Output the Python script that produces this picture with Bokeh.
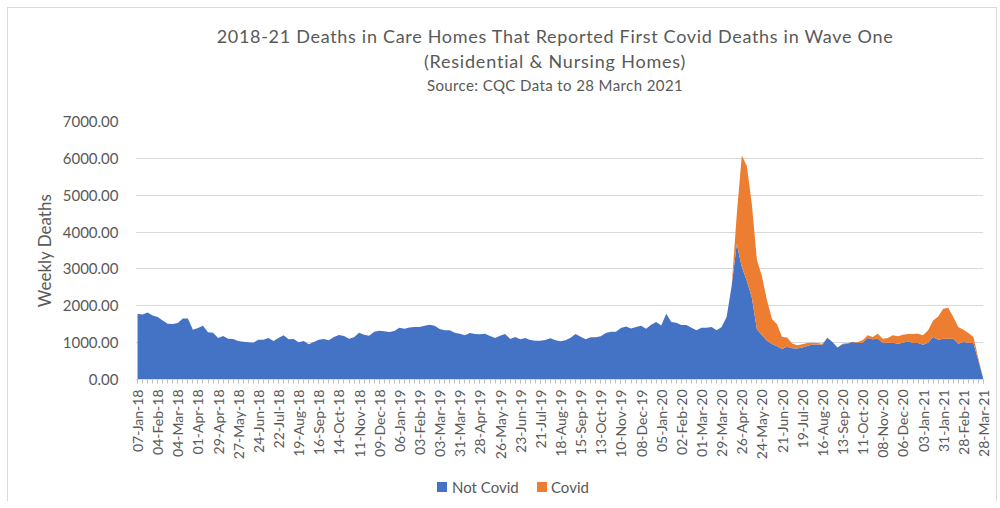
import math
import html
from bokeh.plotting import figure
from bokeh.layouts import column
from bokeh.models import ColumnDataSource, Range1d, FixedTicker, NumeralTickFormatter, Div
from bokeh.embed import file_html
from bokeh.resources import INLINE

# ---------------- data ----------------
week_index = list(range(169))

tick_labels = [
    "07-Jan-18", "04-Feb-18", "04-Mar-18", "01-Apr-18", "29-Apr-18", "27-May-18",
    "24-Jun-18", "22-Jul-18", "19-Aug-18", "16-Sep-18", "14-Oct-18", "11-Nov-18",
    "09-Dec-18", "06-Jan-19", "03-Feb-19", "03-Mar-19", "31-Mar-19", "28-Apr-19",
    "26-May-19", "23-Jun-19", "21-Jul-19", "18-Aug-19", "15-Sep-19", "13-Oct-19",
    "10-Nov-19", "08-Dec-19", "05-Jan-20", "02-Feb-20", "01-Mar-20", "29-Mar-20",
    "26-Apr-20", "24-May-20", "21-Jun-20", "19-Jul-20", "16-Aug-20", "13-Sep-20",
    "11-Oct-20", "08-Nov-20", "06-Dec-20", "03-Jan-21", "31-Jan-21", "28-Feb-21",
    "28-Mar-21",
]

not_covid = [
    1784, 1766, 1820, 1739, 1694, 1604, 1514, 1505, 1532, 1658,
    1658, 1351, 1396, 1459, 1279, 1270, 1126, 1180, 1108, 1099,
    1045, 1027, 1009, 1000, 1081, 1081, 1126, 1045, 1126, 1198,
    1090, 1099, 1009, 1045, 955, 1018, 1081, 1099, 1063, 1153,
    1207, 1180, 1108, 1144, 1270, 1216, 1189, 1297, 1324, 1306,
    1288, 1315, 1405, 1378, 1414, 1423, 1423, 1459, 1486, 1459,
    1369, 1333, 1333, 1270, 1243, 1198, 1261, 1235, 1225, 1243,
    1180, 1126, 1189, 1234, 1099, 1153, 1090, 1126, 1072, 1054,
    1054, 1072, 1117, 1063, 1036, 1063, 1135, 1234, 1162, 1090,
    1144, 1144, 1171, 1261, 1297, 1297, 1396, 1441, 1387, 1423,
    1455, 1378, 1486, 1559, 1468, 1784, 1559, 1541, 1477, 1477,
    1405, 1333, 1405, 1405, 1423, 1333, 1423, 1700, 2550, 3680,
    3050, 2680, 2220, 1360, 1200, 1050, 960, 900, 830, 890,
    850, 840, 865, 910, 950, 950, 946, 1135, 1018, 865,
    955, 973, 1018, 991, 1000, 1126, 1090, 1108, 1000, 1000,
    1000, 973, 1000, 1036, 991, 991, 946, 1000, 1153, 1081,
    1108, 1108, 1108, 973, 1018, 1000, 991, 500, 0,
]

covid = [0] * 119 + [
    800, 3030, 3120, 2530, 1890, 1600, 1100, 680, 600, 320,
    250, 130, 90, 90, 80, 45, 40, 27, 0, 0,
    0, 18, 18, 0, 27, 63, 72, 63, 135, 108,
    126, 198, 198, 216, 198, 243, 252, 252, 333, 451,
    631, 811, 838, 586, 450, 333, 261, 162, 60, 0,
]

y_ticks = [0, 1000, 2000, 3000, 4000, 5000, 6000, 7000]

title_text = "2018-21 Deaths in Care Homes That Reported First Covid Deaths in Wave One"
subtitle_text = "(Residential & Nursing Homes)"
source_text = "Source: CQC Data to 28 March 2021"
y_label = "Weekly Deaths"
series_names = ["Not Covid", "Covid"]

# ---------------- styling ----------------
BLUE = "#4472C4"
ORANGE = "#ED7D31"
GREY_TXT = "#595959"
GRID = "#D9D9D9"
FONT = "Lato"
W = 988

# ---------------- title block ----------------
def line(txt, top, size, lh, ls):
    return (f'<div style="position:absolute;left:97px;top:{top}px;width:900px;'
            f'text-align:center;white-space:nowrap;font-size:{size}px;line-height:{lh}px;'
            f'letter-spacing:{ls}px;">{html.escape(txt)}</div>')

title_html = (f'<div style="position:relative;width:{W}px;height:103px;'
              f'font-family:{FONT};color:{GREY_TXT};">'
              + line(title_text, 17, 18, 22, 0.7)
              + line(subtitle_text, 42, 18, 22, 0.8)
              + line(source_text, 68, 15, 18, 0.4)
              + '</div>')
title_div = Div(text=title_html, width=W, height=103, margin=0)

# ---------------- main chart ----------------
src = ColumnDataSource(dict(x=week_index, not_covid=not_covid, covid=covid))

p = figure(width=W, height=358, output_backend="svg", toolbar_location=None,
           x_range=Range1d(-0.4, 168), y_range=Range1d(0, 7000),
           min_border_left=127, min_border_right=13, min_border_top=10,
           min_border_bottom=90)
p.outline_line_color = None
p.background_fill_color = "white"
p.border_fill_color = "white"

areas = p.varea_stack(["not_covid", "covid"], x="x", color=[BLUE, ORANGE], source=src)

p.xgrid.grid_line_color = None
p.ygrid.grid_line_color = GRID
p.ygrid.grid_line_width = 1
p.ygrid.ticker = FixedTicker(ticks=y_ticks)

p.yaxis.ticker = FixedTicker(ticks=y_ticks)
p.yaxis.formatter = NumeralTickFormatter(format="0.00")
p.yaxis.axis_line_color = None
p.yaxis.major_tick_line_color = None
p.yaxis.minor_tick_line_color = None
p.yaxis.major_tick_out = 0
p.yaxis.minor_tick_out = 0
p.yaxis.major_label_standoff = 17
p.yaxis.major_label_text_font = FONT
p.yaxis.major_label_text_font_size = "15px"
p.yaxis.major_label_text_color = GREY_TXT
p.yaxis.axis_label = y_label
p.yaxis.axis_label_standoff = 5
p.yaxis.axis_label_text_font = FONT
p.yaxis.axis_label_text_font_size = "17px"
p.yaxis.axis_label_text_font_style = "normal"
p.yaxis.axis_label_text_color = GREY_TXT

label_pos = week_index[::4]
p.xaxis.ticker = FixedTicker(ticks=label_pos, minor_ticks=week_index)
p.xaxis.major_label_overrides = {pos: lab for pos, lab in zip(label_pos, tick_labels)}
p.xaxis.axis_line_color = GRID
p.xaxis.major_tick_line_color = "#BFBFBF"
p.xaxis.minor_tick_line_color = "#BFBFBF"
p.xaxis.major_tick_out = 4
p.xaxis.major_tick_in = 0
p.xaxis.minor_tick_out = 4
p.xaxis.minor_tick_in = 0
p.xaxis.major_label_orientation = math.pi / 2
p.xaxis.major_label_standoff = 6
p.xaxis.major_label_text_font = FONT
p.xaxis.major_label_text_font_size = "14px"
p.xaxis.major_label_text_color = GREY_TXT

# ---------------- legend block ----------------
def swatch(left, color):
    return (f'<div style="position:absolute;left:{left}px;top:13px;width:10px;height:10px;'
            f'background:{color};"></div>')

def ltext(left, txt):
    return (f'<div style="position:absolute;left:{left}px;top:9px;font-size:15px;'
            f'line-height:18px;white-space:nowrap;">{html.escape(txt)}</div>')

legend_html = (f'<div style="position:relative;width:{W}px;height:32px;'
               f'font-family:{FONT};color:{GREY_TXT};">'
               + swatch(429, BLUE) + ltext(444, series_names[0])
               + swatch(529, ORANGE) + ltext(543, series_names[1])
               + '</div>')
legend_div = Div(text=legend_html, width=W, height=32, margin=0)

layout = column(title_div, p, legend_div, spacing=0,
                styles={"margin-left": "7px", "margin-top": "7px",
                        "border-top": "1px solid #D9D9D9", "border-left": "1px solid #D9D9D9",
                        "border-right": "1px solid #D9D9D9"})

open("out.html", "w").write(file_html(layout, INLINE))
